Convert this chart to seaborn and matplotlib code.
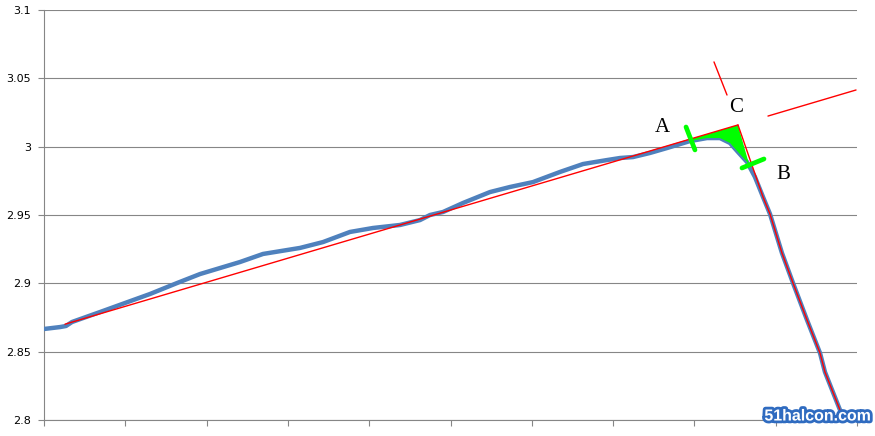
import numpy as np
import pandas as pd
import matplotlib
matplotlib.use('Agg')
import matplotlib.pyplot as plt
import matplotlib.patheffects as pe
import seaborn as sns

# 价格曲线 (x: 时间刻度单位, y: 值)
curve_x = [0.00, 0.197, 0.271, 0.344, 0.689, 0.996, 1.304, 1.636, 1.919, 2.411,
           2.694, 3.149, 3.432, 3.764, 4.047, 4.379, 4.625, 4.748, 4.908, 5.154,
           5.486, 5.732, 6.015, 6.347, 6.630, 6.925, 7.085, 7.245, 7.454, 7.663,
           7.946, 8.155, 8.315, 8.438, 8.536, 8.647, 8.745, 8.844, 8.930, 9.077,
           9.213, 9.385, 9.545, 9.606, 9.791, 9.852]
curve_y = [2.8666, 2.8680, 2.8688, 2.8717, 2.8790, 2.8856, 2.8922, 2.9002, 2.9068, 2.9156,
           2.9215, 2.9259, 2.9302, 2.9376, 2.9405, 2.9427, 2.9463, 2.9500, 2.9522, 2.9588,
           2.9668, 2.9705, 2.9741, 2.9815, 2.9873, 2.9902, 2.9917, 2.9924, 2.9954, 2.9990,
           3.0041, 3.0063, 3.0063, 3.0027, 2.9961, 2.9888, 2.9778, 2.9632, 2.9507, 2.9222,
           2.9002, 2.8732, 2.8490, 2.8351, 2.8073, 2.8022]

# 切线 (A 段) 与拐点 C
tangent_start = (0.258, 2.8701)
point_c = (8.536, 3.0159)
tangent_far = (9.988, 3.0422)
tangent_gap_x = 8.905
# 第二条切线上方延长段
tan2_upper_x = [8.241, 8.401]
tan2_upper_y = [3.062, 3.0378]
# A, B 位置
a_x, b_x = 7.98, 8.684
mark_a_x, mark_a_y = [7.897, 8.007], [3.0144, 2.9976]
mark_b_x, mark_b_y = [8.585, 8.856], [2.9844, 2.9910]
labels = ['A', 'B', 'C']
label_x = [7.60, 9.09, 8.512]
label_y = [3.0137, 2.980, 3.0283]

y_ticks = [2.8, 2.85, 2.9, 2.95, 3.0, 3.05, 3.1]
y_tick_labels = ['2.8', '2.85', '2.9', '2.95', '3', '3.05', '3.1']

df = pd.DataFrame({'x': curve_x, 'y': curve_y})

sns.set_theme(style='white')
plt.rcParams['font.family'] = ['DejaVu Sans']

fig = plt.figure(figsize=(8.75, 4.36), dpi=100)
ax = fig.add_axes([44 / 875, 16 / 436, (857 - 44) / 875, 410 / 436])

grid_c = '#868686'
for v in y_ticks:
    ax.axhline(v, color=grid_c, lw=0.8, zorder=1)

sns.lineplot(data=df, x='x', y='y', ax=ax, color='#4f81bd', lw=3.2,
             sort=False, zorder=3)

# 切线 1
def line1(x):
    k = (point_c[1] - tangent_start[1]) / (point_c[0] - tangent_start[0])
    return tangent_start[1] + k * (np.asarray(x) - tangent_start[0])

ax.plot([tangent_start[0], point_c[0]], line1([tangent_start[0], point_c[0]]),
        color='red', lw=1.0, zorder=5)
ax.plot([tangent_gap_x, tangent_far[0]], line1([tangent_gap_x, tangent_far[0]]),
        color='red', lw=1.0, zorder=5)
ax.plot(tan2_upper_x, tan2_upper_y, color='red', lw=1.0, zorder=5)

# 切线 2: 从 C 沿下降段
cx = np.array(curve_x)
cy = np.array(curve_y)
desc = cx >= 8.84
ax.plot(np.r_[point_c[0], cx[desc]], np.r_[point_c[1], cy[desc]],
        color='red', lw=1.0, zorder=5)

# 绿色三角区域
top_x = np.linspace(a_x, point_c[0], 10)
top_y = line1(top_x)
seg = (cx > a_x) & (cx < b_x)
b_y = np.interp(b_x, cx, cy)
a_y = np.interp(a_x, cx, cy)
poly_x = np.r_[top_x, b_x, cx[seg][::-1], a_x]
poly_y = np.r_[top_y, b_y, cy[seg][::-1], a_y]
ax.fill(poly_x, poly_y, color='#00ff00', lw=0, zorder=4)

ax.plot(mark_a_x, mark_a_y, color='#00ff00', lw=3.4, solid_capstyle='round', zorder=6)
ax.plot(mark_b_x, mark_b_y, color='#00ff00', lw=3.4, solid_capstyle='round', zorder=6)

for t, x, y in zip(labels, label_x, label_y):
    ax.text(x, y, t, family='Liberation Serif', fontsize=15, color='black',
            ha='center', va='center', zorder=7)

ax.set_xlim(0, 10)
ax.set_ylim(2.8, 3.1)
ax.set_xticks(range(0, 11))
ax.set_xticklabels([])
ax.set_yticks(y_ticks)
ax.set_yticklabels(y_tick_labels)
ax.set_xlabel('')
ax.set_ylabel('')
ax.tick_params(axis='y', length=4, width=0.8, color=grid_c, pad=5.5,
               labelsize=8, labelcolor='black', left=True)
ax.tick_params(axis='x', length=4, width=0.8, color=grid_c, bottom=True)
for s in ['top', 'right']:
    ax.spines[s].set_visible(False)
for s in ['left', 'bottom']:
    ax.spines[s].set_color(grid_c)
    ax.spines[s].set_linewidth(0.8)

# 水印
fig.text(818 / 875, 1 - 416 / 436, '51halcon.com', family='Liberation Sans',
         fontsize=11.5, fontweight='bold', color='white', ha='center', va='center',
         path_effects=[pe.withStroke(linewidth=4, foreground='#2f6bc0')], zorder=10)

fig.savefig('out.png', dpi=100)
